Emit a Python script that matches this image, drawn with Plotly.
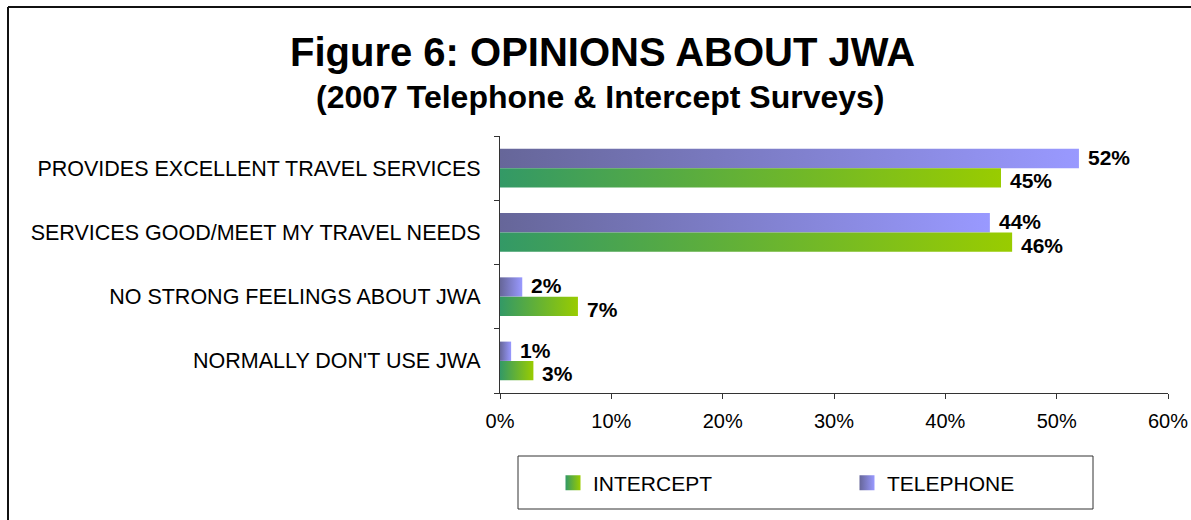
import plotly.graph_objects as go

# ---- data ----
categories = [
    "PROVIDES EXCELLENT TRAVEL SERVICES",
    "SERVICES GOOD/MEET MY TRAVEL NEEDS",
    "NO STRONG FEELINGS ABOUT JWA",
    "NORMALLY DON'T USE JWA",
]
telephone = [52, 44, 2, 1]
intercept = [45, 46, 7, 3]
x_tick_values = [0, 10, 20, 30, 40, 50, 60]
x_tick_labels = ["0%", "10%", "20%", "30%", "40%", "50%", "60%"]

# ---- styles ----
FONT = "Liberation Sans, Arial, sans-serif"
series_style = {
    "TELEPHONE": dict(colors=["#666699", "#9999FF"], lo=-0.3, hi=0.0),
    "INTERCEPT": dict(colors=["#339966", "#99CC00"], lo=0.0, hi=0.3),
}
series_data = {"TELEPHONE": telephone, "INTERCEPT": intercept}

fig = go.Figure()
annotations = []

for name, values in series_data.items():
    st = series_style[name]
    for i, v in enumerate(values):
        y0, y1 = i + st["lo"], i + st["hi"]
        fig.add_trace(go.Scatter(
            x=[0, v, v, 0, 0],
            y=[y0, y0, y1, y1, y0],
            mode="lines",
            fill="toself",
            fillgradient=dict(type="horizontal",
                              colorscale=[[0, st["colors"][0]], [1, st["colors"][1]]]),
            line=dict(width=0, color="rgba(0,0,0,0)"),
            showlegend=False,
            hoverinfo="skip",
        ))
        annotations.append(dict(
            x=v, y=i + (st["lo"] + st["hi"]) / 2, xref="x", yref="y",
            text=f"<b>{v}%</b>", showarrow=False, xanchor="left", yanchor="middle",
            xshift=7, yshift=(1 if name == "TELEPHONE" else -3),
            font=dict(family=FONT, size=21, color="black"),
        ))

# legend entries
for name in ["INTERCEPT", "TELEPHONE"]:
    c0, c1 = series_style[name]["colors"]
    fig.add_trace(go.Scatter(
        x=[None], y=[None], mode="markers", name=name,
        marker=dict(symbol="square", size=15, color=c0,
                    gradient=dict(type="horizontal", color=c1),
                    line=dict(width=0)),
        showlegend=True,
    ))

W, H = 1191, 520
left, right, top, bottom = 500, 1168, 136, 393

annotations += [
    dict(text="<b>Figure 6: OPINIONS ABOUT JWA</b>", x=602 / W, y=1 - 52 / H,
         xref="paper", yref="paper", showarrow=False, xanchor="center", yanchor="middle",
         font=dict(family=FONT, size=40, color="black")),
    dict(text="<b>(2007 Telephone & Intercept Surveys)</b>", x=600 / W, y=1 - 97 / H,
         xref="paper", yref="paper", showarrow=False, xanchor="center", yanchor="middle",
         font=dict(family=FONT, size=32, color="black")),
]

fig.update_layout(
    width=W, height=H, autosize=False,
    margin=dict(l=0, r=0, t=0, b=0, autoexpand=False),
    paper_bgcolor="white",
    plot_bgcolor="white",
    font=dict(family=FONT, color="black"),
    showlegend=True,
    legend=dict(
        orientation="h",
        x=518 / W, y=1 - 483 / H, xanchor="left", yanchor="middle",
        borderwidth=0, bgcolor="rgba(0,0,0,0)",
        font=dict(family=FONT, size=21, color="black"),
        entrywidth=214, entrywidthmode="pixels",
        indentation=35,
        itemclick=False, itemdoubleclick=False,
    ),
    xaxis=dict(
        domain=[left / W, right / W],
        range=[0, 60],
        tickvals=x_tick_values,
        ticktext=x_tick_labels,
        ticks="outside", ticklen=5, tickcolor="#333333",
        ticklabelstandoff=5,
        showline=True, linecolor="#333333", linewidth=1,
        showgrid=False, zeroline=False, automargin=False,
        tickfont=dict(family=FONT, size=20, color="black"),
        fixedrange=True,
    ),
    yaxis=dict(
        domain=[1 - bottom / H, 1 - top / H],
        range=[len(categories) - 0.5, -0.5],
        tickvals=list(range(len(categories))),
        ticktext=categories,
        ticks="", ticklabelstandoff=14,
        minor=dict(tickvals=[k - 0.5 for k in range(len(categories) + 1)],
                   ticks="outside", ticklen=5, tickcolor="#333333"),
        showline=True, linecolor="#333333", linewidth=1,
        showgrid=False, zeroline=False, automargin=False,
        tickfont=dict(family=FONT, size=21.5, color="black"),
        fixedrange=True,
    ),
    annotations=annotations,
    shapes=[
        # outer frame: top and left edges only (right/bottom fall outside the picture)
        dict(type="line", xref="paper", yref="paper",
             x0=8 / W, x1=1, y0=1 - 7 / H, y1=1 - 7 / H,
             line=dict(color="#111111", width=2), layer="below"),
        dict(type="line", xref="paper", yref="paper",
             x0=8 / W, x1=8 / W, y0=0, y1=1 - 7 / H,
             line=dict(color="#111111", width=2), layer="below"),
        # legend box
        dict(type="rect", xref="paper", yref="paper",
             x0=518 / W, x1=1093 / W, y0=1 - 509 / H, y1=1 - 456 / H,
             line=dict(color="#333333", width=1), fillcolor="rgba(0,0,0,0)", layer="below"),
    ],
)

fig.write_html(
    "out.html",
    config={"responsive": False, "displayModeBar": False},
    post_script="document.body.style.margin='0';document.body.style.overflow='hidden';",
)
